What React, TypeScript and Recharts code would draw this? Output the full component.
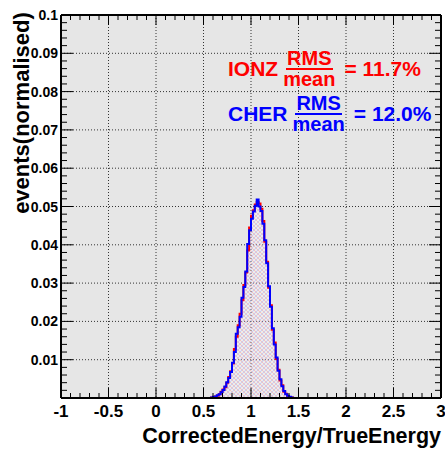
import React from "react";
import {
  ComposedChart,
  Area,
  XAxis,
  YAxis,
  CartesianGrid,
} from "recharts";

// lower bin edges of the histogram (bin width 0.02)
const binEdges = [
  0.56, 0.58, 0.6, 0.62, 0.64, 0.66, 0.68, 0.7, 0.72, 0.74, 0.76, 0.78, 0.8,
  0.82, 0.84, 0.86, 0.88, 0.9, 0.92, 0.94, 0.96, 0.98, 1.0, 1.02, 1.04, 1.06,
  1.08, 1.1, 1.12, 1.14, 1.16, 1.18, 1.2, 1.22, 1.24, 1.26, 1.28, 1.3, 1.32,
  1.34, 1.36, 1.38, 1.4, 1.42, 1.44,
];

// IONZ (red)
const ionz = [
  0, 0.0001, 0.0002, 0.0004, 0.0006, 0.001, 0.0016, 0.0022, 0.0028, 0.004,
  0.0055, 0.007, 0.009, 0.0128, 0.016, 0.019, 0.022, 0.0255, 0.0295, 0.0328,
  0.0385, 0.0445, 0.0476, 0.049, 0.0505, 0.0512, 0.0508, 0.0494, 0.0462,
  0.0408, 0.0356, 0.0288, 0.0242, 0.0178, 0.0145, 0.0102, 0.0074, 0.0046,
  0.0033, 0.0016, 0.0011, 0.0005, 0.0002, 0.0001, 0,
];

// CHER (blue)
const cher = [
  0, 0.0001, 0.0003, 0.0004, 0.0007, 0.001, 0.0015, 0.0021, 0.003, 0.0041,
  0.0052, 0.0068, 0.0092, 0.012, 0.0168, 0.0185, 0.0212, 0.0262, 0.029, 0.033,
  0.0402, 0.0438, 0.0468, 0.0487, 0.0502, 0.0518, 0.05, 0.0488, 0.0455,
  0.0412, 0.0352, 0.0292, 0.0238, 0.0182, 0.014, 0.0106, 0.0071, 0.0049,
  0.0031, 0.0018, 0.001, 0.0006, 0.0003, 0.0001, 0,
];

const xMajorTicks = [-1, -0.5, 0, 0.5, 1, 1.5, 2, 2.5, 3];
const yMajorTicks = [0, 0.01, 0.02, 0.03, 0.04, 0.05, 0.06, 0.07, 0.08, 0.09, 0.1];
const xAllTicks = Array.from({ length: 41 }, (_, i) => +(-1 + i * 0.1).toFixed(1));
const yAllTicks = Array.from({ length: 51 }, (_, i) => +(i * 0.002).toFixed(3));

const histData = [
  { x: -1, ionz: 0, cher: 0 },
  ...binEdges.map((x, i) => ({ x, ionz: ionz[i], cher: cher[i] })),
  { x: 3, ionz: 0, cher: 0 },
];

const FONT = "'Liberation Sans', Arial, Helvetica, sans-serif";
const X_DOMAIN: [number, number] = [-1, 3];
const Y_DOMAIN: [number, number] = [0, 0.1];

const isXMajor = (v: number) => Math.abs(v * 2 - Math.round(v * 2)) < 1e-6;
const isYMajor = (v: number) => Math.abs(v * 100 - Math.round(v * 100)) < 1e-6;

// grid only at the major ticks
const gridX = ({ xAxis, offset }: any) =>
  xMajorTicks.map((v) => {
    const s = typeof xAxis?.scale === "function" ? xAxis.scale(v) : NaN;
    return Number.isFinite(s)
      ? s
      : offset.left + ((v - X_DOMAIN[0]) / (X_DOMAIN[1] - X_DOMAIN[0])) * offset.width;
  });
const gridY = ({ yAxis, offset }: any) =>
  yMajorTicks.map((v) => {
    const s = typeof yAxis?.scale === "function" ? yAxis.scale(v) : NaN;
    return Number.isFinite(s)
      ? s
      : offset.top + (1 - (v - Y_DOMAIN[0]) / (Y_DOMAIN[1] - Y_DOMAIN[0])) * offset.height;
  });

const BottomTick = ({ x, y, payload }: any) => {
  const major = isXMajor(payload.value);
  return (
    <g>
      <line x1={x} x2={x} y1={y} y2={y - (major ? 10 : 5)} stroke="#000" />
      {major && (
        <text
          x={x}
          y={y + 19}
          textAnchor="middle"
          fontSize={17}
          fontWeight="bold"
          fontFamily={FONT}
          fill="#000"
        >
          {payload.value}
        </text>
      )}
    </g>
  );
};

const TopTick = ({ x, y, payload }: any) => {
  const len = isXMajor(payload.value) ? 10 : 5;
  return <line x1={x} x2={x} y1={y} y2={y + len} stroke="#000" />;
};

const LeftTick = ({ x, y, payload }: any) => {
  const major = isYMajor(payload.value);
  return (
    <g>
      <line x1={x} x2={x + (major ? 12 : 6)} y1={y} y2={y} stroke="#000" />
      {major && payload.value > 0 && (
        <text
          x={x - 3}
          y={y + 5}
          textAnchor="end"
          fontSize={14}
          fontWeight="bold"
          fontFamily={FONT}
          fill="#000"
        >
          {payload.value}
        </text>
      )}
    </g>
  );
};

const RightTick = ({ x, y, payload }: any) => {
  const len = isYMajor(payload.value) ? 12 : 6;
  return <line x1={x} x2={x - len} y1={y} y2={y} stroke="#000" />;
};

const frame = { stroke: "#000", strokeWidth: 2 };

function Ratio({ name, value, color }: { name: string; value: string; color: string }) {
  return (
    <div
      style={{
        display: "flex",
        alignItems: "center",
        color,
        fontFamily: FONT,
        fontWeight: "bold",
        fontSize: 21,
        whiteSpace: "nowrap",
      }}
    >
      <span>{name}</span>
      <span
        style={{
          display: "inline-flex",
          flexDirection: "column",
          alignItems: "center",
          margin: "0 9px 0 5px",
          fontSize: 20,
          lineHeight: "18px",
        }}
      >
        <span style={{ borderBottom: `2px solid ${color}`, padding: "0 1px 1px" }}>RMS</span>
        <span>mean</span>
      </span>
      <span>= {value}</span>
    </div>
  );
}

export default function App() {
  return (
    <div
      style={{
        position: "absolute",
        left: 0,
        top: 0,
        width: 445,
        height: 449,
        background: "#fff",
      }}
    >
      <ComposedChart
        width={445}
        height={449}
        data={histData}
        margin={{ top: 0, right: 0, bottom: 0, left: 0 }}
      >
        <defs>
          <pattern id="hatchRed" width="4" height="4" patternUnits="userSpaceOnUse">
            <rect width="4" height="4" fill="#ffffff" fillOpacity={0.25} />
            <path d="M0,0 L4,4" stroke="#ff4040" strokeWidth={0.8} strokeOpacity={0.3} />
          </pattern>
          <pattern id="hatchBlue" width="4" height="4" patternUnits="userSpaceOnUse">
            <path d="M4,0 L0,4" stroke="#4040ff" strokeWidth={0.8} strokeOpacity={0.25} />
          </pattern>
        </defs>

        <CartesianGrid
          xAxisId={0}
          yAxisId={0}
          stroke="#333"
          strokeDasharray="1 2"
          fill="#e6e6e6"
          fillOpacity={1}
          verticalCoordinatesGenerator={gridX}
          horizontalCoordinatesGenerator={gridY}
        />

        <XAxis
          xAxisId={0}
          dataKey="x"
          type="number"
          domain={X_DOMAIN}
          ticks={xAllTicks}
          interval={0}
          height={51}
          tickSize={0}
          tickMargin={0}
          tickLine={false}
          axisLine={frame}
          tick={BottomTick}
        />
        <XAxis
          xAxisId="top"
          orientation="top"
          dataKey="x"
          type="number"
          domain={X_DOMAIN}
          ticks={xAllTicks}
          interval={0}
          height={15}
          tickSize={0}
          tickMargin={0}
          tickLine={false}
          axisLine={frame}
          tick={TopTick}
        />
        <YAxis
          yAxisId={0}
          type="number"
          domain={Y_DOMAIN}
          ticks={yAllTicks}
          interval={0}
          width={61}
          tickSize={0}
          tickMargin={0}
          tickLine={false}
          axisLine={frame}
          tick={LeftTick}
        />
        <YAxis
          yAxisId="right"
          orientation="right"
          type="number"
          domain={Y_DOMAIN}
          ticks={yAllTicks}
          interval={0}
          width={4}
          tickSize={0}
          tickMargin={0}
          tickLine={false}
          axisLine={frame}
          tick={RightTick}
        />

        <Area
          xAxisId={0}
          yAxisId={0}
          dataKey="ionz"
          type="stepAfter"
          stroke="#ff0000"
          strokeWidth={2}
          fill="url(#hatchRed)"
          fillOpacity={1}
          isAnimationActive={false}
          dot={false}
          activeDot={false}
        />
        <Area
          xAxisId={0}
          yAxisId={0}
          dataKey="cher"
          type="stepAfter"
          stroke="#0000ff"
          strokeWidth={2}
          fill="url(#hatchBlue)"
          fillOpacity={1}
          isAnimationActive={false}
          dot={false}
          activeDot={false}
        />
        {/* invisible copy that gives the top / right frame axes their scale */}
        <Area
          xAxisId="top"
          yAxisId="right"
          dataKey="cher"
          type="stepAfter"
          stroke="none"
          fill="none"
          isAnimationActive={false}
          dot={false}
          activeDot={false}
        />
      </ComposedChart>

      {/* axis titles */}
      <div
        style={{
          position: "absolute",
          left: 22,
          top: 113,
          transform: "translate(-50%, -50%) rotate(-90deg)",
          fontFamily: FONT,
          fontWeight: "bold",
          fontSize: 22,
          whiteSpace: "nowrap",
          color: "#000",
        }}
      >
        events(normalised)
      </div>
      <div
        style={{
          position: "absolute",
          right: 4,
          top: 424,
          fontFamily: FONT,
          fontWeight: "bold",
          fontSize: 21.5,
          whiteSpace: "nowrap",
          color: "#000",
        }}
      >
        CorrectedEnergy/TrueEnergy
      </div>

      {/* RMS/mean annotations */}
      <div style={{ position: "absolute", left: 228, top: 49 }}>
        <Ratio name="IONZ" value="11.7%" color="#ff0000" />
      </div>
      <div style={{ position: "absolute", left: 228, top: 94 }}>
        <Ratio name="CHER" value="12.0%" color="#0000ff" />
      </div>
    </div>
  );
}
